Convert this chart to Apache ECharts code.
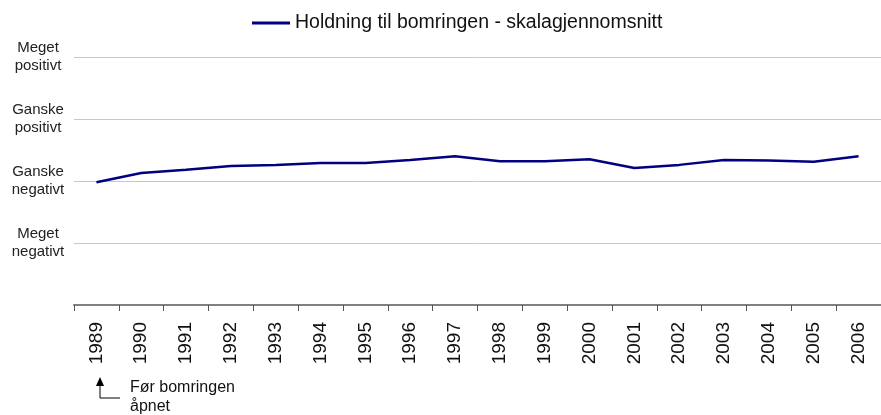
<!DOCTYPE html>
<html>
<head>
<meta charset="utf-8">
<script src="https://cdn.jsdelivr.net/npm/echarts@6/dist/echarts.min.js"></script>
<style>
  html, body { margin: 0; padding: 0; background: #fff; }
  #chart { width: 881px; height: 415px; }
</style>
</head>
<body>
<div id="chart"></div>
<script>
// Survey years
const years = ['1989', '1990', '1991', '1992', '1993', '1994', '1995', '1996', '1997',
  '1998', '1999', '2000', '2001', '2002', '2003', '2004', '2005', '2006'];

// Average attitude on the 1-4 scale (1 = Meget negativt, 4 = Meget positivt)
const scaleAverage = [1.98, 2.13, 2.18, 2.24, 2.26, 2.29, 2.29, 2.34, 2.40,
  2.32, 2.32, 2.35, 2.21, 2.26, 2.34, 2.33, 2.31, 2.40];

// Scale step names shown on the value axis
const scaleLabels = ['', 'Meget\nnegativt', 'Ganske\nnegativt', 'Ganske\npositivt', 'Meget\npositivt'];

const seriesName = 'Holdning til bomringen - skalagjennomsnitt';
const font = 'Liberation Sans, Arial, sans-serif';

const chart = echarts.init(document.getElementById('chart'), null, { renderer: 'canvas' });

chart.setOption({
  animation: false,
  backgroundColor: '#ffffff',
  textStyle: { fontFamily: font },
  legend: {
    left: 247,
    top: 8,
    icon: 'rect',
    itemWidth: 38,
    itemHeight: 3,
    itemGap: 10,
    textStyle: { fontSize: 19.5, color: '#111', fontFamily: font },
    data: [seriesName]
  },
  grid: { left: 74, right: 0, top: 57, bottom: 110, containLabel: false },
  xAxis: {
    type: 'category',
    data: years,
    boundaryGap: true,
    axisLine: { show: true, lineStyle: { color: '#808080', width: 2 } },
    axisTick: { show: true, alignWithLabel: false, interval: 0, length: 6, lineStyle: { color: '#555', width: 1 } },
    axisLabel: { interval: 0, rotate: 90, margin: 17, fontSize: 19, color: '#111', fontFamily: font },
    splitLine: { show: false }
  },
  yAxis: {
    type: 'value',
    min: 0,
    max: 4,
    interval: 1,
    axisLine: { show: false },
    axisTick: { show: false },
    axisLabel: {
      margin: 36,
      align: 'center',
      fontSize: 15,
      lineHeight: 18,
      padding: [4, 0, 0, 0],
      color: '#222',
      fontFamily: font,
      formatter: v => scaleLabels[v] || ''
    },
    splitLine: { show: true, lineStyle: { color: '#c8c8c8', width: 1 } }
  },
  series: [{
    name: seriesName,
    type: 'line',
    data: scaleAverage,
    symbol: 'none',
    lineStyle: { color: '#000080', width: 2.5 },
    itemStyle: { color: '#000080' }
  }],
  graphic: [
    {
      type: 'polyline',
      shape: { points: [[120, 398], [100, 398], [100, 383]] },
      style: { stroke: '#000', lineWidth: 1, fill: null }
    },
    {
      type: 'polygon',
      shape: { points: [[96, 386], [104, 386], [100, 377]] },
      style: { fill: '#000' }
    },
    {
      type: 'text',
      left: 130,
      top: 378,
      style: {
        text: 'Før bomringen\nåpnet',
        font: '16px ' + font,
        lineHeight: 19,
        fill: '#111'
      }
    }
  ]
});
</script>
</body>
</html>
